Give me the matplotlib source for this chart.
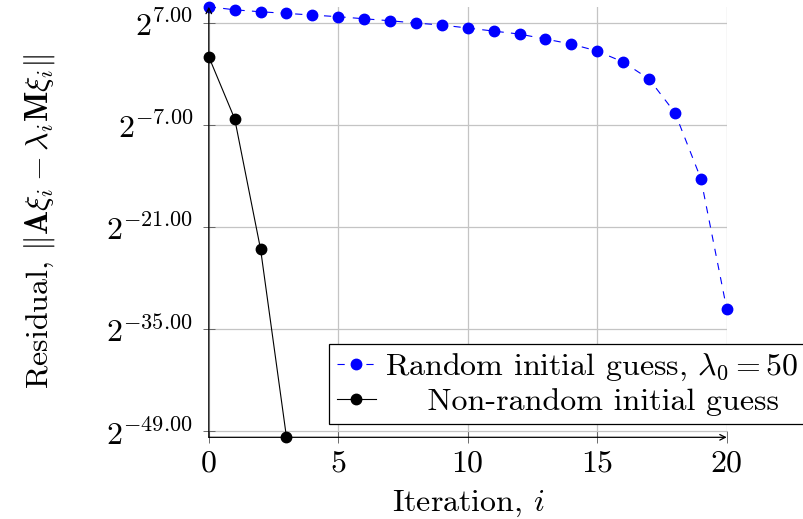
import numpy as np
import matplotlib
matplotlib.use("Agg")
import matplotlib.pyplot as plt
from matplotlib.ticker import FixedLocator, FixedFormatter

plt.rcParams['font.family'] = 'cmr10'
plt.rcParams['mathtext.fontset'] = 'cm'
plt.rcParams['axes.formatter.use_mathtext'] = True

# iteration numbers and log2 of residuals
it_random = list(range(21))
log2_random = [9.28, 8.86, 8.59, 8.37, 8.14, 7.91, 7.63, 7.36, 7.04, 6.77, 6.36,
               5.94, 5.53, 4.85, 4.16, 3.2, 1.7, -0.64, -5.26, -14.3, -32.2]
it_fixed = [0, 1, 2, 3]
log2_fixed = [2.42, -6.1, -24.0, -49.8]

ytick_exp = [7, -7, -21, -35, -49]
xticks = [0, 5, 10, 15, 20]

res_random = 2.0 ** np.array(log2_random)
res_fixed = 2.0 ** np.array(log2_fixed)

fig = plt.figure(figsize=(8.04, 5.19), dpi=100)
ax = fig.add_axes([0.2597, 0.1574, 0.6442, 0.8296])

ax.plot(it_random, res_random, color='blue', lw=0.8, ls=(0, (6.5, 6.5)),
        marker='o', ms=7.5, mec='blue', mfc='blue', clip_on=False, zorder=3,
        label=r'Random initial guess, $\lambda_0 = 50$')
ax.plot(it_fixed, res_fixed, color='black', lw=0.8, marker='o', ms=7.5,
        clip_on=False, zorder=3, label='    Non-random initial guess')

ax.set_yscale('log', base=2)
ax.set_xlim(0, 20)
ax.set_ylim(2.0 ** -49.8, 2.0 ** 9.28)
ax.yaxis.set_major_locator(FixedLocator([2.0 ** e for e in ytick_exp]))
ax.yaxis.set_major_formatter(FixedFormatter([r'$2^{%.2f}$' % e for e in ytick_exp]))
ax.yaxis.set_minor_locator(FixedLocator([]))
ax.set_xticks(xticks)
ax.set_xticklabels([r'$%d$' % x for x in xticks])

ax.grid(True, color='#c4c4c4', lw=0.9)
ax.set_axisbelow(True)
for s in ax.spines.values():
    s.set_visible(False)
ax.tick_params(direction='inout', length=8.5, width=0.6, color='#555555',
               labelsize=23)
ax.tick_params(axis='y', pad=7)
ax.tick_params(axis='x', pad=5)

# axis lines with arrow tips
ax.annotate('', xy=(0, 1), xytext=(0, 0), xycoords='axes fraction',
            arrowprops=dict(arrowstyle='->', lw=0.9, color='black', shrinkA=0, shrinkB=0))
ax.annotate('', xy=(1, 0), xytext=(0, 0), xycoords='axes fraction',
            arrowprops=dict(arrowstyle='->', lw=0.9, color='black', shrinkA=0, shrinkB=0))

ax.set_xlabel(r'Iteration, $i$', fontsize=23, labelpad=8)
ax.set_ylabel(r'Residual, $\|\mathbf{A}\xi_i - \lambda_i\mathbf{M}\xi_i\|$', fontsize=23)
ax.yaxis.set_label_coords(-0.293, 0.5)

leg = ax.legend(loc='upper left', bbox_to_anchor=(0.2327, 0.2167), fontsize=23,
                frameon=True, fancybox=False, edgecolor='black', framealpha=1,
                handlelength=1.2, handletextpad=0.3, borderpad=0.25, labelspacing=0.15,
                borderaxespad=0)
leg.get_frame().set_linewidth(0.9)

fig.savefig('out.png', dpi=100)
